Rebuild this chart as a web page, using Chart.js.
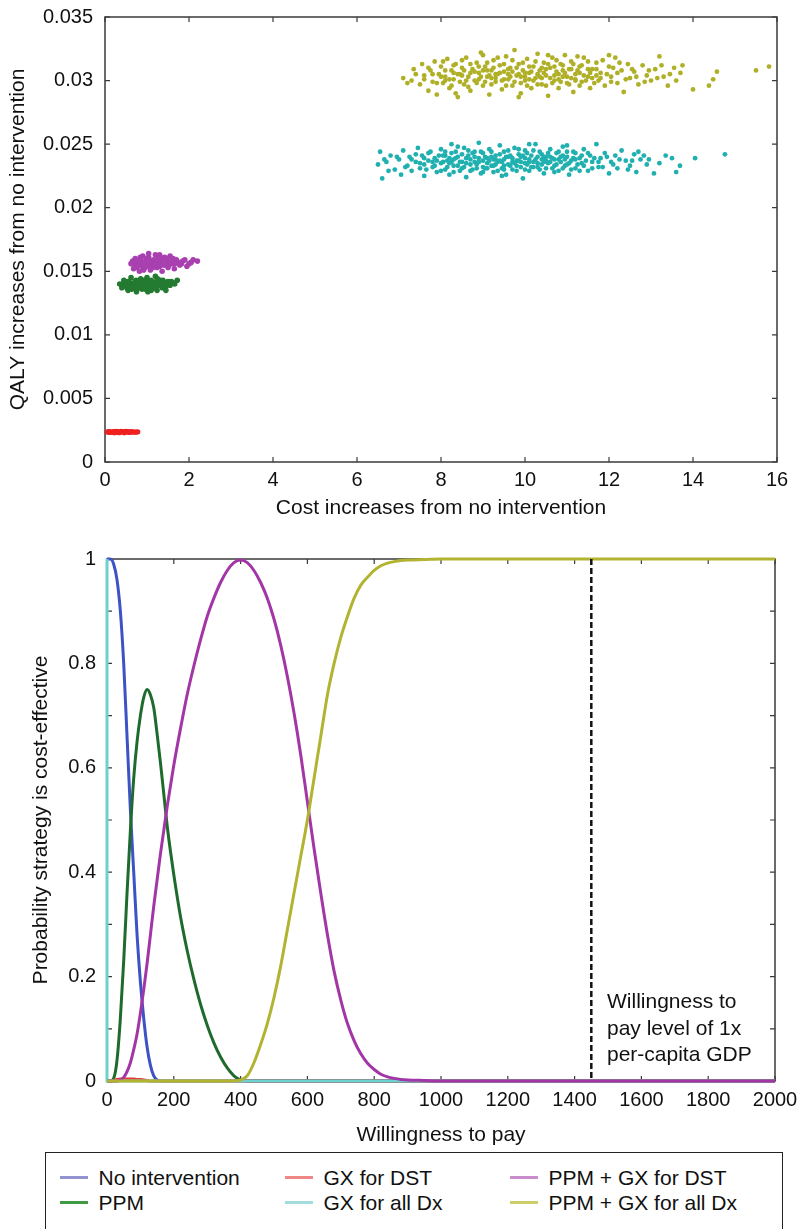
<!DOCTYPE html>
<html>
<head>
<meta charset="utf-8">
<script src="https://cdn.jsdelivr.net/npm/chart.js@4.4.1/dist/chart.umd.min.js"></script>
<style>
  body { margin: 0; background: #fff; font-family: "Liberation Sans", Arial, sans-serif; }
  #wrap { position: relative; width: 801px; height: 1229px; overflow: hidden; }
  #scatter { position: absolute; left: 0; top: 0; }
  #ceac { position: absolute; left: 0; top: 530px; }
  #legend { position: absolute; left: 45px; top: 1152px; width: 736px; height: 100px; border: 1.5px solid #222; }
  .item { position: absolute; font-size: 21px; color: #111; line-height: 24px; white-space: nowrap; }
  .item i { display: inline-block; width: 28px; height: 3px; vertical-align: middle; margin-right: 11px; position: relative; top: -1px; }
</style>
</head>
<body>
<div id="wrap">
  <canvas id="scatter" width="801" height="530"></canvas>
  <canvas id="ceac" width="801" height="620"></canvas>
  <div id="legend"></div>
</div>
<script>
// strategy names, in legend order
const strategies = ['No intervention', 'PPM', 'GX for DST', 'GX for all Dx', 'PPM + GX for DST', 'PPM + GX for all Dx'];

// PSA samples: [incremental cost, incremental QALY] vs no intervention
const psaGxDst = [
  [0.05,0.00236],[0.1,0.00232],[0.12,0.0024],[0.18,0.00236],[0.22,0.00231],[0.26,0.00241],
  [0.3,0.00236],[0.34,0.0023],[0.38,0.00242],[0.42,0.00236],[0.46,0.00231],[0.5,0.00241],
  [0.54,0.00236],[0.58,0.00232],[0.62,0.0024],[0.66,0.00236],[0.72,0.00235],[0.78,0.00237],
  [0.08,0.00239],[0.15,0.00234],[0.2,0.00239],[0.28,0.00233],[0.32,0.0024],[0.36,0.00235],
  [0.44,0.0024],[0.48,0.00235],[0.52,0.00238],[0.56,0.0024],[0.6,0.00235],[0.64,0.00238],
  [0.69,0.00236],[0.75,0.00235]
];
const psaPpm = [
  [0.35,0.014],[0.4,0.0137],[0.45,0.0143],[0.5,0.0139],[0.55,0.0135],[0.6,0.0141],[0.62,0.0145],
  [0.68,0.0137],[0.72,0.0142],[0.75,0.0134],[0.8,0.0139],[0.85,0.0144],[0.88,0.0136],[0.92,0.0141],
  [0.97,0.0138],[1.0,0.0145],[1.02,0.0134],[1.06,0.014],[1.1,0.0143],[1.13,0.0137],[1.17,0.0141],
  [1.2,0.0146],[1.24,0.0135],[1.28,0.0139],[1.32,0.0143],[1.36,0.0137],[1.4,0.0141],[1.45,0.0138],
  [1.5,0.0142],[1.55,0.0139],[1.62,0.0141],[1.72,0.0143],[0.65,0.014],[0.9,0.0139],[1.15,0.0139],
  [0.78,0.0141],[1.05,0.0137],[1.3,0.0141],[0.55,0.0142],[1.45,0.0135],
  [0.42,0.014],[0.48,0.0141],[0.52,0.0137],[0.58,0.0139],[0.64,0.0136],[0.7,0.0139],[0.74,0.0143],
  [0.82,0.0137],[0.86,0.0141],[0.94,0.0143],[0.96,0.0136],[1.03,0.0142],[1.08,0.0138],[1.12,0.0141],
  [1.18,0.0137],[1.22,0.0142],[1.26,0.0139],[1.34,0.014],[1.38,0.0143],[1.42,0.0139],[1.48,0.014],
  [1.58,0.0142],[1.66,0.014],[0.6,0.0137],[0.76,0.0138],[0.98,0.014],[1.1,0.0135],[1.25,0.0144]
];
const psaPpmGxDst = [
  [0.62,0.0156],[0.68,0.0152],[0.72,0.016],[0.78,0.0155],[0.82,0.015],[0.86,0.0158],[0.9,0.0162],
  [0.95,0.0153],[1.0,0.0157],[1.04,0.0161],[1.08,0.0151],[1.12,0.0155],[1.16,0.0159],[1.2,0.0163],
  [1.24,0.0153],[1.28,0.0157],[1.32,0.0161],[1.36,0.015],[1.4,0.0155],[1.45,0.0159],[1.5,0.0153],
  [1.55,0.0162],[1.6,0.0156],[1.65,0.0152],[1.7,0.0159],[1.78,0.0155],[1.85,0.0158],[1.95,0.0154],
  [2.05,0.0157],[2.2,0.0158],[0.85,0.0155],[1.1,0.0158],[1.3,0.0154],[1.5,0.0157],[0.98,0.016],
  [1.42,0.0161],[1.22,0.0156],[0.75,0.0158],[1.62,0.016],
  [0.66,0.0158],[0.7,0.0155],[0.76,0.0153],[0.8,0.0157],[0.84,0.0161],[0.88,0.0154],[0.92,0.0157],
  [0.96,0.0155],[1.02,0.0154],[1.06,0.0157],[1.14,0.0153],[1.18,0.0156],[1.26,0.016],[1.34,0.0157],
  [1.38,0.0159],[1.44,0.0155],[1.48,0.016],[1.52,0.0155],[1.58,0.0158],[1.66,0.0156],[1.74,0.0157],
  [1.82,0.0156],[1.9,0.0159],[2.0,0.0156],[2.1,0.0159],[1.04,0.0164],[1.3,0.0163],[0.92,0.0151]
];
const psaGxAll = [
  [6.5,0.0234],[6.55,0.0244],[6.6,0.0223],[6.7,0.0236],[6.8,0.0241],[6.9,0.023],[7.0,0.0238],
  [7.05,0.0226],[7.1,0.0245],[7.2,0.0233],[7.25,0.024],[7.3,0.0229],[7.4,0.0236],[7.45,0.0247],
  [7.5,0.0231],[7.55,0.0241],[7.6,0.0225],[7.7,0.0237],[7.75,0.0244],[7.8,0.0232],[7.85,0.0239],
  [7.9,0.0228],[8.0,0.0235],[8.0,0.0246],[8.05,0.0241],[8.1,0.023],[8.15,0.0237],[8.2,0.0226],
  [8.25,0.0243],[8.3,0.0233],[8.35,0.0239],[8.4,0.0248],[8.45,0.0229],[8.5,0.0236],[8.5,0.0242],
  [8.55,0.0232],[8.6,0.0224],[8.65,0.0245],[8.7,0.0238],[8.75,0.023],[8.8,0.024],[8.85,0.0234],
  [8.9,0.0251],[8.95,0.0227],[9.0,0.0237],[9.0,0.0243],[9.05,0.0231],[9.1,0.0239],[9.15,0.0246],
  [9.2,0.0233],[9.25,0.0228],[9.3,0.0241],[9.35,0.0236],[9.4,0.0249],[9.45,0.0231],[9.5,0.0238],
  [9.5,0.0244],[9.55,0.0226],[9.6,0.0234],[9.65,0.0241],[9.7,0.023],[9.75,0.0247],[9.8,0.0237],
  [9.85,0.0242],[9.9,0.0232],[9.95,0.0223],[10.0,0.0239],[10.0,0.0245],[10.05,0.0234],[10.1,0.0229],
  [10.15,0.0241],[10.2,0.0236],[10.25,0.025],[10.3,0.0232],[10.35,0.0244],[10.4,0.0238],[10.45,0.0227],
  [10.5,0.024],[10.55,0.0235],[10.6,0.0246],[10.65,0.0231],[10.7,0.0238],[10.75,0.0243],[10.8,0.0229],
  [10.85,0.0236],[10.9,0.0248],[10.95,0.0233],[11.0,0.024],[11.05,0.0226],[11.1,0.0237],[11.15,0.0244],
  [11.2,0.0231],[11.3,0.0239],[11.35,0.0235],[11.4,0.0246],[11.5,0.0229],[11.55,0.0241],[11.6,0.0236],
  [11.7,0.025],[11.75,0.0232],[11.8,0.0239],[11.9,0.0243],[12.0,0.0227],[12.05,0.0236],[12.15,0.0241],
  [12.2,0.0231],[12.3,0.0245],[12.4,0.0237],[12.5,0.0233],[12.6,0.0242],[12.65,0.0228],[12.75,0.0238],
  [12.83,0.0241],[12.9,0.0234],[13.07,0.0227],[13.5,0.0239],[13.6,0.0228],[13.69,0.0233],[14.05,0.0239],
  [14.76,0.0242],
  [8.1,0.0241],[8.3,0.0238],[8.4,0.0233],[8.6,0.0239],[8.7,0.0234],[8.8,0.0244],[8.9,0.0236],
  [9.0,0.0232],[9.1,0.0235],[9.2,0.024],[9.3,0.0234],[9.4,0.0237],[9.5,0.0233],[9.6,0.024],
  [9.7,0.0236],[9.8,0.0233],[9.9,0.024],[10.0,0.0235],[10.1,0.0238],[10.2,0.0232],[10.3,0.024],
  [10.4,0.0234],[10.5,0.0237],[10.6,0.024],[10.7,0.0233],[10.8,0.0238],[10.9,0.0241],[11.0,0.0234],
  [11.2,0.0238],[11.4,0.0233],[7.9,0.0237],[7.6,0.0234],[8.2,0.0235],[9.25,0.0238],[9.85,0.0237],
  [10.45,0.0236],
  [7.3,0.0238],[7.4,0.0242],[7.5,0.0235],[7.6,0.0239],[7.65,0.023],[7.7,0.0243],[7.8,0.0236],
  [7.85,0.0233],[7.95,0.0241],[8.0,0.0229],[8.05,0.0236],[8.1,0.0244],[8.15,0.0232],[8.2,0.0239],
  [8.25,0.0236],[8.3,0.0228],[8.35,0.0244],[8.4,0.024],[8.45,0.0236],[8.5,0.0231],[8.55,0.0247],
  [8.6,0.0235],[8.65,0.0241],[8.7,0.0229],[8.75,0.0243],[8.8,0.0236],[8.85,0.0231],[8.9,0.0239],
  [8.95,0.0244],[9.0,0.0228],[9.05,0.024],[9.1,0.0231],[9.15,0.0237],[9.2,0.0244],[9.25,0.0233],
  [9.3,0.0238],[9.35,0.0229],[9.4,0.0242],[9.45,0.0236],[9.5,0.023],[9.55,0.024],[9.6,0.0245],
  [9.65,0.0233],[9.7,0.0239],[9.75,0.0235],[9.8,0.0229],[9.85,0.0246],[9.9,0.0236],[9.95,0.0241],
  [10.0,0.023],[10.05,0.0243],[10.1,0.0236],[10.15,0.0232],[10.2,0.0245],[10.25,0.0238],[10.3,0.0235],
  [10.35,0.023],[10.4,0.0242],[10.45,0.024],[10.5,0.0231],[10.55,0.0243],[10.6,0.0236],[10.65,0.0239],
  [10.7,0.0228],[10.75,0.0234],[10.8,0.0244],[10.85,0.024],[10.9,0.0231],[10.95,0.0238],[11.0,0.0244],
  [11.05,0.0235],[11.1,0.023],[11.15,0.0239],[11.2,0.0243],[11.25,0.0234],[11.3,0.0229],[11.35,0.0241],
  [11.45,0.0237],[11.5,0.0243],[11.6,0.0231],[11.65,0.0239],[11.75,0.0236],[11.85,0.0232],[11.95,0.024],
  [12.1,0.0234],[12.25,0.0238],[12.45,0.023],[12.55,0.0237],[12.7,0.0244],[12.95,0.0238],[13.2,0.0235],
  [13.35,0.0241],[7.15,0.0232],[6.95,0.024],[6.75,0.0229],[6.65,0.0238],[9.45,0.0225],[10.1,0.025],
  [8.25,0.025],[11.0,0.0249]
];
const psaPpmGxAll = [
  [7.1,0.0302],[7.3,0.03],[7.35,0.0309],[7.5,0.0297],[7.55,0.0313],[7.6,0.0304],[7.7,0.0292],
  [7.75,0.0308],[7.8,0.0299],[7.85,0.0315],[7.9,0.0289],[7.95,0.0305],[8.0,0.0311],[8.05,0.0298],
  [8.1,0.0303],[8.15,0.0317],[8.2,0.0294],[8.25,0.0308],[8.3,0.0301],[8.35,0.0313],[8.4,0.0287],
  [8.45,0.0305],[8.5,0.031],[8.55,0.0297],[8.6,0.0318],[8.65,0.0303],[8.7,0.0292],[8.75,0.0309],
  [8.8,0.03],[8.85,0.0314],[8.9,0.0306],[8.95,0.0322],[9.0,0.0296],[9.05,0.0311],[9.1,0.0303],
  [9.15,0.0289],[9.2,0.0308],[9.25,0.0316],[9.3,0.0299],[9.35,0.0305],[9.4,0.0312],[9.45,0.0293],
  [9.5,0.0307],[9.55,0.0319],[9.6,0.0301],[9.65,0.031],[9.7,0.0296],[9.75,0.0324],[9.8,0.0304],
  [9.85,0.0313],[9.9,0.029],[9.95,0.0308],[10.0,0.03],[10.05,0.0317],[10.1,0.0306],[10.15,0.0294],
  [10.2,0.0311],[10.25,0.0302],[10.3,0.0321],[10.35,0.0308],[10.4,0.0297],[10.45,0.0314],[10.5,0.0304],
  [10.55,0.0288],[10.6,0.031],[10.65,0.0318],[10.7,0.03],[10.75,0.0307],[10.8,0.0294],[10.85,0.0313],
  [10.9,0.0303],[10.95,0.032],[11.0,0.0298],[11.05,0.0309],[11.1,0.0315],[11.15,0.0291],[11.2,0.0305],
  [11.3,0.0311],[11.35,0.0299],[11.4,0.0318],[11.5,0.0303],[11.55,0.0294],[11.6,0.0309],[11.7,0.0314],
  [11.75,0.03],[11.8,0.0306],[11.9,0.0296],[12.0,0.0311],[12.05,0.0303],[12.15,0.0318],[12.2,0.0298],
  [12.3,0.0308],[12.35,0.0291],[12.45,0.0313],[12.5,0.0302],[12.6,0.0307],[12.7,0.0297],[12.8,0.0312],
  [12.9,0.0304],[13.0,0.03],[13.1,0.0309],[13.2,0.0319],[13.3,0.0303],[13.4,0.0296],[13.55,0.031],
  [13.7,0.0306],[14.0,0.0293],[14.38,0.0296],[14.48,0.0301],[14.57,0.0307],[15.5,0.0308],[15.81,0.0311],
  [8.5,0.0304],[8.7,0.0306],[8.9,0.0301],[9.1,0.0308],[9.3,0.0305],[9.5,0.0301],[9.7,0.0307],
  [9.9,0.0303],[10.1,0.0301],[10.3,0.0305],[10.5,0.0309],[10.7,0.0304],[10.9,0.0308],[11.1,0.0302],
  [11.3,0.0306],[11.5,0.0309],[11.7,0.0304],[9.2,0.0302],[9.6,0.0305],[10.0,0.0306],[10.4,0.0302],
  [10.8,0.0301],[11.2,0.03],[11.6,0.0302],[8.3,0.0306],[8.1,0.03],
  [7.6,0.0301],[7.7,0.031],[7.8,0.0305],[7.9,0.0298],[8.0,0.0303],[8.05,0.0315],[8.1,0.0308],
  [8.2,0.0301],[8.25,0.0296],[8.3,0.0312],[8.4,0.0305],[8.45,0.0299],[8.5,0.0316],[8.55,0.0308],
  [8.6,0.03],[8.65,0.0295],[8.7,0.0313],[8.8,0.0307],[8.85,0.0298],[8.9,0.0311],[8.95,0.0303],
  [9.0,0.0308],[9.05,0.0299],[9.1,0.0314],[9.15,0.0304],[9.2,0.0297],[9.25,0.031],[9.3,0.0302],
  [9.35,0.0318],[9.4,0.0306],[9.45,0.03],[9.5,0.0313],[9.55,0.0296],[9.6,0.0309],[9.65,0.0303],
  [9.7,0.0316],[9.75,0.0299],[9.8,0.031],[9.85,0.0305],[9.9,0.0298],[9.95,0.0314],[10.0,0.0303],
  [10.05,0.0296],[10.1,0.0311],[10.15,0.0307],[10.2,0.03],[10.25,0.0315],[10.3,0.0297],[10.35,0.0303],
  [10.4,0.031],[10.45,0.0306],[10.5,0.0296],[10.55,0.0313],[10.6,0.0302],[10.65,0.0298],[10.7,0.0311],
  [10.75,0.0316],[10.8,0.0305],[10.85,0.0299],[10.9,0.0312],[10.95,0.0306],[11.0,0.0303],[11.05,0.0297],
  [11.1,0.0309],[11.15,0.0313],[11.2,0.0301],[11.25,0.0308],[11.3,0.0296],[11.35,0.0312],[11.4,0.0304],
  [11.45,0.03],[11.5,0.0315],[11.55,0.0306],[11.65,0.0298],[11.7,0.0309],[11.8,0.0302],[11.85,0.0316],
  [11.95,0.0305],[12.05,0.0299],[12.1,0.031],[12.2,0.0306],[12.25,0.0314],[12.4,0.0301],[12.55,0.0309],
  [12.65,0.0303],[12.85,0.0299],[12.95,0.0308],[13.15,0.0302],[13.25,0.0312],[13.45,0.0305],[13.6,0.03],
  [13.75,0.0312],[7.4,0.0305],[7.2,0.0298],[8.35,0.029],[9.85,0.0287],[10.55,0.032],[11.25,0.0319],
  [9.0,0.032],[12.0,0.032]
];

// acceptability curves: willingness to pay grid and probability per strategy
const wtp = [0,10,20,30,40,50,60,70,80,90,100,110,120,130,140,150,160,170,180,190,200,
  220,240,260,280,300,320,340,360,380,400,420,440,460,480,500,520,540,560,580,600,620,640,660,680,700,
  720,740,760,780,800,820,840,860,880,900,950,1000,1100,1200,1400,1600,1800,2000];
const probNone = [1,1,0.99,0.96,0.9,0.8,0.66,0.52,0.4,0.28,0.19,0.12,0.065,0.03,0.01,0.002,0,0,0,0,0,
  0,0,0,0,0,0,0,0,0,0,0,0,0,0,0,0,0,0,0,0,0,0,0,0,0,0,0,0,0,0,0,0,0,0,0,
  0,0,0,0,0,0,0,0];
const probPpm = [0,0,0.005,0.04,0.12,0.23,0.36,0.48,0.58,0.65,0.7,0.735,0.75,0.74,0.715,0.665,0.61,0.55,0.49,0.44,0.395,
  0.315,0.25,0.195,0.147,0.107,0.073,0.046,0.025,0.01,0.002,0,0,0,0,0,0,0,0,0,0,0,0,0,0,0,0,0,0,0,0,0,0,0,0,0,
  0,0,0,0,0,0,0,0];
const probGxDst = [0,0,0.001,0.003,0.004,0.004,0.004,0.004,0.004,0.003,0.003,0.002,0.001,0,0,0,0,0,0,0,0,
  0,0,0,0,0,0,0,0,0,0,0,0,0,0,0,0,0,0,0,0,0,0,0,0,0,0,0,0,0,0,0,0,0,0,0,
  0,0,0,0,0,0,0,0];
const probPpmGxDst = [0,0,0,0,0.002,0.007,0.018,0.035,0.06,0.09,0.13,0.175,0.225,0.28,0.335,0.385,0.435,0.48,0.525,0.565,0.605,
  0.675,0.74,0.795,0.845,0.89,0.925,0.955,0.978,0.993,0.998,0.993,0.978,0.955,0.925,0.885,0.835,0.775,0.705,0.625,0.535,
  0.445,0.36,0.28,0.21,0.155,0.11,0.077,0.052,0.034,0.022,0.013,0.008,0.005,0.003,0.002,
  0.001,0,0,0,0,0,0,0];
const probPpmGxAll = [0,0,0,0,0,0,0,0,0,0,0,0,0,0,0,0,0,0,0,0,0,
  0,0,0,0,0,0,0,0,0,0.002,0.01,0.035,0.07,0.11,0.16,0.22,0.29,0.36,0.43,0.5,0.58,0.66,0.74,0.8,0.85,
  0.89,0.925,0.95,0.965,0.978,0.987,0.992,0.995,0.997,0.998,
  0.999,1,1,1,1,1,1,1];
// GX for all Dx only shows up at zero willingness to pay
const wtpGxAll = [0, 0, 2000];
const probGxAll = [1, 0, 0];

const gdpThreshold = 1450;
const gdpNote = ['Willingness to', 'pay level of 1x', 'per-capita GDP'];

const scatterColors = {
  'GX for DST': '#ee2020', 'PPM': '#237a30', 'PPM + GX for DST': '#a840b0',
  'GX for all Dx': '#20b0b0', 'PPM + GX for all Dx': '#b0b028'
};
const lineColors = ['#3d52c4', '#1f6b2d', '#e23b3b', '#6fd0d0', '#a236a6', '#b3b332'];
const legendColors = ['#9393d2', '#3f9a44', '#f08787', '#a3dcdc', '#c98ccd', '#cdcd6c'];

const tickFont = { family: '"Liberation Sans", Arial, sans-serif', size: 20 };
const titleFont = { family: '"Liberation Sans", Arial, sans-serif', size: 21 };
const ink = '#111';

// box around the plot with inward ticks on all four sides
const framePlugin = {
  id: 'frame',
  beforeDatasetsDraw(chart) {
    const { ctx, chartArea: a, scales: { x, y } } = chart;
    ctx.save();
    ctx.strokeStyle = '#3a3a3a';
    ctx.lineWidth = 1.5;
    ctx.strokeRect(a.left, a.top, a.right - a.left, a.bottom - a.top);
    ctx.lineWidth = 1.2;
    ctx.beginPath();
    x.ticks.forEach(t => {
      const px = x.getPixelForValue(t.value);
      ctx.moveTo(px, a.bottom); ctx.lineTo(px, a.bottom - 5);
      ctx.moveTo(px, a.top); ctx.lineTo(px, a.top + 5);
    });
    y.ticks.forEach(t => {
      const py = y.getPixelForValue(t.value);
      ctx.moveTo(a.left, py); ctx.lineTo(a.left + 5, py);
      ctx.moveTo(a.right, py); ctx.lineTo(a.right - 5, py);
    });
    ctx.stroke();
    ctx.restore();
  }
};

// dashed reference line at the GDP threshold with its note
const thresholdPlugin = {
  id: 'threshold',
  afterDatasetsDraw(chart) {
    const { ctx, scales: { x, y } } = chart;
    const px = x.getPixelForValue(gdpThreshold);
    ctx.save();
    ctx.strokeStyle = '#111';
    ctx.lineWidth = 2.5;
    ctx.setLineDash([6, 3]);
    ctx.beginPath();
    ctx.moveTo(px, y.getPixelForValue(1));
    ctx.lineTo(px, y.getPixelForValue(0));
    ctx.stroke();
    ctx.fillStyle = ink;
    ctx.font = '21px "Liberation Sans", Arial, sans-serif';
    ctx.textBaseline = 'middle';
    const tx = x.getPixelForValue(gdpThreshold + 47);
    [0.15, 0.1, 0.05].forEach((v, i) => ctx.fillText(gdpNote[i], tx, y.getPixelForValue(v)));
    ctx.restore();
  }
};

// fixed axis boxes so the plot areas sit where they should
const fixWidth = w => s => { s.width = w; s.paddingTop = 0; s.paddingBottom = 0; };
const fixHeight = h => s => { s.height = h; s.paddingLeft = 0; s.paddingRight = 0; };

const toPoints = arr => arr.map(([x, y]) => ({ x, y }));
const scatterSets = [
  ['GX for DST', psaGxDst, 2.6],
  ['PPM', psaPpm, 2.8],
  ['PPM + GX for DST', psaPpmGxDst, 2.8],
  ['GX for all Dx', psaGxAll, 2.4],
  ['PPM + GX for all Dx', psaPpmGxAll, 2.4]
];

new Chart(document.getElementById('scatter'), {
  type: 'scatter',
  data: {
    datasets: scatterSets.map(([name, pts, r]) => ({
      label: name,
      data: toPoints(pts),
      backgroundColor: scatterColors[name],
      borderWidth: 0,
      pointRadius: r,
      clip: false
    }))
  },
  options: {
    responsive: false,
    animation: false,
    layout: { padding: { top: 17, right: 24, left: 0, bottom: 0 } },
    plugins: { legend: { display: false }, tooltip: { enabled: false } },
    scales: {
      x: {
        type: 'linear', min: 0, max: 16,
        afterFit: fixHeight(68),
        grid: { display: false, drawTicks: false },
        border: { display: false },
        ticks: { stepSize: 2, padding: 6, color: ink, font: tickFont },
        title: { display: true, text: 'Cost increases from no intervention', color: ink, font: titleFont, padding: { top: 0, bottom: 9 } }
      },
      y: {
        min: 0, max: 0.035,
        afterFit: fixWidth(105),
        grid: { display: false, drawTicks: false },
        border: { display: false },
        ticks: { stepSize: 0.005, padding: 12, color: ink, font: tickFont, callback: v => String(+v.toFixed(3)) },
        title: { display: true, text: 'QALY increases from no intervention', color: ink, font: titleFont, padding: { top: 6, bottom: 0 } }
      }
    }
  },
  plugins: [framePlugin]
});

const seriesProb = [probNone, probPpm, probGxDst, null, probPpmGxDst, probPpmGxAll];
new Chart(document.getElementById('ceac'), {
  type: 'line',
  data: {
    datasets: strategies.map((name, i) => ({
      label: name,
      data: seriesProb[i]
        ? wtp.map((x, j) => ({ x, y: seriesProb[i][j] }))
        : wtpGxAll.map((x, j) => ({ x, y: probGxAll[j] })),
      borderColor: lineColors[i],
      borderWidth: 3,
      pointRadius: 0,
      cubicInterpolationMode: 'monotone',
      clip: false,
      order: strategies.length - i
    }))
  },
  options: {
    responsive: false,
    animation: false,
    layout: { padding: { top: 29, right: 26, left: 0, bottom: 0 } },
    plugins: { legend: { display: false }, tooltip: { enabled: false } },
    scales: {
      x: {
        type: 'linear', min: 0, max: 2000,
        afterFit: fixHeight(69),
        grid: { display: false, drawTicks: false },
        border: { display: false },
        ticks: { stepSize: 200, padding: 7, color: ink, font: tickFont, callback: v => String(v) },
        title: { display: true, text: 'Willingness to pay', color: ink, font: titleFont, padding: { top: 0, bottom: 2 } }
      },
      y: {
        min: 0, max: 1,
        afterFit: fixWidth(107),
        grid: { display: false, drawTicks: false },
        border: { display: false },
        ticks: {
          stepSize: 0.1, padding: 11, color: ink, font: tickFont,
          callback: v => {
            const k = Math.round(v * 10);
            return k % 2 ? '' : String(k / 10);
          }
        },
        title: { display: true, text: 'Probability strategy is cost-effective', color: ink, font: titleFont, padding: { top: 29, bottom: 0 } }
      }
    }
  },
  plugins: [framePlugin, thresholdPlugin]
});

// legend box, filled column by column
const legend = document.getElementById('legend');
const colLeft = [13.5, 238.5, 463.5];
const rowTop = [12.5, 37.5];
strategies.forEach((name, i) => {
  const el = document.createElement('div');
  el.className = 'item';
  el.style.left = colLeft[Math.floor(i / 2)] + 'px';
  el.style.top = rowTop[i % 2] + 'px';
  el.innerHTML = '<i style="background:' + legendColors[i] + '"></i>' + name;
  legend.appendChild(el);
});
</script>
</body>
</html>
